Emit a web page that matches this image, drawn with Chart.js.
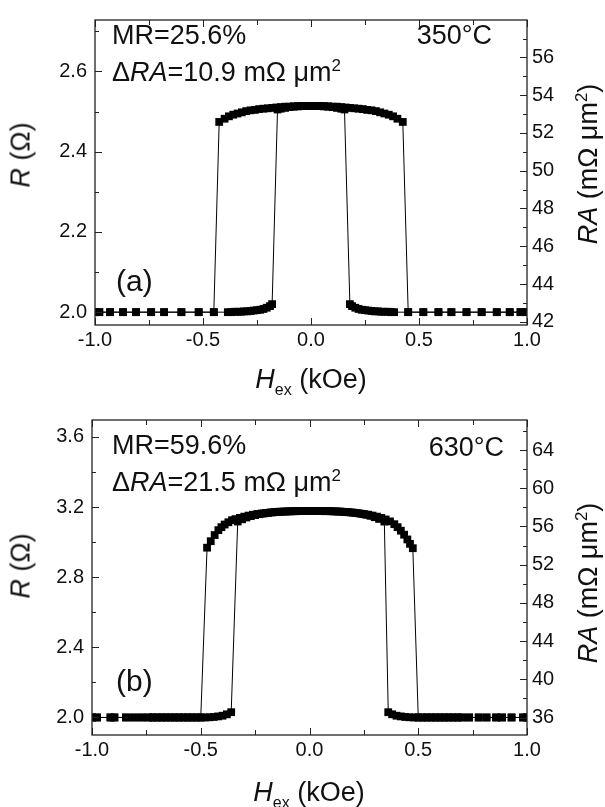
<!DOCTYPE html>
<html>
<head>
<meta charset="utf-8">
<script src="https://cdn.jsdelivr.net/npm/chart.js@4.4.1/dist/chart.umd.min.js"></script>
<style>
  body { margin: 0; background: #fff; }
  #wrap { position: relative; width: 605px; height: 807px; overflow: hidden; font-family: "Liberation Sans", Arial, sans-serif; color: #111; }
  canvas { position: absolute; left: 0; }
  #chartA { top: 0; }
  #chartB { top: 400px; }
  .txt { position: absolute; font-size: 27px; line-height: 27px; white-space: nowrap; }
  .lab { font-size: 30px; line-height: 30px; }
  .rot { transform: translate(-50%, -50%) rotate(-90deg); }
  .hor { transform: translate(-50%, -50%); }
  sup { font-size: 17px; vertical-align: 10px; line-height: 0; }
  sub { font-size: 16px; vertical-align: -7px; line-height: 0; }
</style>
</head>
<body>
<div id="wrap">
  <canvas id="chartA" width="605" height="400"></canvas>
  <canvas id="chartB" width="605" height="407"></canvas>

  <div class="txt" style="left:112px; top:22px;">MR=25.6%</div>
  <div class="txt" style="left:112px; top:59px;">&Delta;<i>RA</i>=10.9 m&Omega; &mu;m<sup>2</sup></div>
  <div class="txt" style="right:113px; top:22px;">350°C</div>
  <div class="txt lab" style="left:116px; top:266px;">(a)</div>
  <div class="txt rot" style="left:21px; top:155px;"><i>R</i> (&Omega;)</div>
  <div class="txt rot" style="left:588px; top:164px;"><i>RA</i> (m&Omega; &mu;m<sup>2</sup>)</div>
  <div class="txt hor" style="left:311px; top:379px;"><i>H</i><sub>ex</sub> (kOe)</div>

  <div class="txt" style="left:112px; top:432px;">MR=59.6%</div>
  <div class="txt" style="left:112px; top:469px;">&Delta;<i>RA</i>=21.5 m&Omega; &mu;m<sup>2</sup></div>
  <div class="txt" style="right:101px; top:434px;">630°C</div>
  <div class="txt lab" style="left:116px; top:666px;">(b)</div>
  <div class="txt rot" style="left:21px; top:566px;"><i>R</i> (&Omega;)</div>
  <div class="txt rot" style="left:588px; top:583px;"><i>RA</i> (m&Omega; &mu;m<sup>2</sup>)</div>
  <div class="txt hor" style="left:309px; top:792px;"><i>H</i><sub>ex</sub> (kOe)</div>
</div>

<script>
// ticks
const fieldTicks = [-1.0, -0.5, 0.0, 0.5, 1.0];
const fieldMinor = [-0.75, -0.25, 0.25, 0.75];
const rTicksA = [2.0, 2.2, 2.4, 2.6];
const rMinorA = [2.1, 2.3, 2.5, 2.7];
const raTicksA = [42, 44, 46, 48, 50, 52, 54, 56];
const raMinorA = [43, 45, 47, 49, 51, 53, 55, 57];
const rTicksB = [2.0, 2.4, 2.8, 3.2, 3.6];
const rMinorB = [2.2, 2.6, 3.0, 3.4];
const raTicksB = [36, 40, 44, 48, 52, 56, 60, 64];
const raMinorB = [38, 42, 46, 50, 54, 58, 62, 66];

// (a) 350°C : sweep -1 -> +1
const fieldUpA = [-1.00, -0.98, -0.93, -0.87, -0.81, -0.74, -0.68, -0.60, -0.52, -0.45,
  -0.385, -0.37, -0.355, -0.34, -0.325, -0.31, -0.295, -0.28, -0.265, -0.25, -0.235, -0.22, -0.205, -0.19, -0.18,
  -0.155, -0.14, -0.12, -0.10, -0.08, -0.06, -0.04, -0.02, 0.00, 0.02, 0.04, 0.06, 0.08, 0.10, 0.12, 0.14,
  0.16, 0.18, 0.20, 0.22, 0.24, 0.26, 0.28, 0.30, 0.32, 0.34, 0.36, 0.38, 0.40, 0.425,
  0.45, 0.52, 0.59, 0.65, 0.72, 0.79, 0.86, 0.92, 0.97, 1.00];
const resUpA = [2.000, 2.000, 2.000, 2.000, 2.000, 2.000, 2.000, 2.000, 2.000, 2.000,
  2.000, 2.000, 2.001, 2.001, 2.001, 2.002, 2.002, 2.003, 2.004, 2.005, 2.006, 2.008, 2.011, 2.015, 2.020,
  2.505, 2.507, 2.509, 2.511, 2.512, 2.513, 2.514, 2.514, 2.514, 2.514, 2.514, 2.513, 2.513, 2.512, 2.512, 2.511,
  2.510, 2.509, 2.508, 2.507, 2.506, 2.504, 2.503, 2.501, 2.498, 2.495, 2.492, 2.488, 2.482, 2.474,
  2.000, 2.000, 2.000, 2.000, 2.000, 2.000, 2.000, 2.000, 2.000, 2.000];

// (a) 350°C : sweep +1 -> -1
const fieldDownA = [1.00, 0.97, 0.92, 0.86, 0.79, 0.72, 0.65, 0.59, 0.52, 0.45,
  0.385, 0.37, 0.355, 0.34, 0.325, 0.31, 0.295, 0.28, 0.265, 0.25, 0.235, 0.22, 0.205, 0.19, 0.18,
  0.155, 0.14, 0.12, 0.10, 0.08, 0.06, 0.04, 0.02, 0.00, -0.02, -0.04, -0.06, -0.08, -0.10, -0.12, -0.14,
  -0.16, -0.18, -0.20, -0.22, -0.24, -0.26, -0.28, -0.30, -0.32, -0.34, -0.36, -0.38, -0.40, -0.425,
  -0.45, -0.52, -0.60, -0.68, -0.74, -0.81, -0.87, -0.93, -0.98, -1.00];
const resDownA = [2.000, 2.000, 2.000, 2.000, 2.000, 2.000, 2.000, 2.000, 2.000, 2.000,
  2.000, 2.000, 2.001, 2.001, 2.001, 2.002, 2.002, 2.003, 2.004, 2.005, 2.006, 2.008, 2.011, 2.015, 2.020,
  2.505, 2.507, 2.509, 2.511, 2.512, 2.513, 2.514, 2.514, 2.514, 2.514, 2.514, 2.513, 2.513, 2.512, 2.512, 2.511,
  2.510, 2.509, 2.508, 2.507, 2.506, 2.504, 2.503, 2.501, 2.498, 2.495, 2.492, 2.488, 2.482, 2.474,
  2.000, 2.000, 2.000, 2.000, 2.000, 2.000, 2.000, 2.000, 2.000, 2.000];

// (b) 630°C : sweep -1 -> +1
const fieldUpB = [-1.00, -0.977, -0.915, -0.897, -0.844, -0.808, -0.773,
  -0.74, -0.72, -0.70, -0.68, -0.66, -0.64, -0.62, -0.60, -0.58, -0.56, -0.54, -0.52, -0.50,
  -0.48, -0.46, -0.44, -0.42, -0.40, -0.38, -0.36,
  -0.33, -0.31, -0.29, -0.27, -0.25, -0.23, -0.21, -0.19, -0.17, -0.15, -0.13, -0.11, -0.09, -0.07, -0.05, -0.03, -0.01,
  0.01, 0.03, 0.05, 0.07, 0.09, 0.11, 0.13, 0.15, 0.17, 0.19, 0.21, 0.23, 0.25, 0.27, 0.29, 0.31, 0.33,
  0.35, 0.37, 0.39, 0.405, 0.42, 0.435, 0.45, 0.462, 0.475,
  0.50, 0.52, 0.54, 0.56, 0.58, 0.60, 0.62, 0.64, 0.66, 0.68, 0.70,
  0.734, 0.778, 0.814, 0.858, 0.885, 0.929, 0.982, 1.00];
const resUpB = [2.000, 2.000, 2.000, 2.000, 2.000, 2.000, 2.000,
  2.000, 2.000, 2.000, 2.000, 2.000, 2.000, 2.000, 2.000, 2.000, 2.000, 2.000, 2.000, 2.000,
  2.000, 2.001, 2.003, 2.006, 2.010, 2.018, 2.030,
  3.117, 3.130, 3.140, 3.148, 3.154, 3.159, 3.163, 3.166, 3.169, 3.171, 3.173, 3.174, 3.175, 3.176, 3.177, 3.177, 3.177,
  3.177, 3.177, 3.177, 3.176, 3.176, 3.175, 3.174, 3.173, 3.171, 3.169, 3.166, 3.163, 3.160, 3.156, 3.151, 3.145, 3.138,
  3.129, 3.118, 3.102, 3.085, 3.065, 3.042, 3.015, 2.990, 2.965,
  2.000, 2.000, 2.000, 2.000, 2.000, 2.000, 2.000, 2.000, 2.000, 2.000, 2.000,
  2.000, 2.000, 2.000, 2.000, 2.000, 2.000, 2.000, 2.000];

// (b) 630°C : sweep +1 -> -1
const fieldDownB = [1.00, 0.982, 0.929, 0.885, 0.858, 0.814, 0.778, 0.734,
  0.70, 0.68, 0.66, 0.64, 0.62, 0.60, 0.58, 0.56, 0.54, 0.52, 0.50,
  0.48, 0.46, 0.44, 0.42, 0.40, 0.38, 0.362,
  0.344, 0.32, 0.30, 0.28, 0.26, 0.24, 0.22, 0.20, 0.18, 0.16, 0.14, 0.12, 0.10, 0.08, 0.06, 0.04, 0.02, 0.00,
  -0.02, -0.04, -0.06, -0.08, -0.10, -0.12, -0.14, -0.16, -0.18, -0.20, -0.22, -0.24, -0.26, -0.28, -0.30, -0.32,
  -0.34, -0.356, -0.373, -0.39, -0.405, -0.419, -0.436, -0.454, -0.471,
  -0.50, -0.52, -0.54, -0.56, -0.58, -0.60, -0.62, -0.64, -0.66, -0.68, -0.70, -0.72, -0.74,
  -0.773, -0.808, -0.844, -0.897, -0.915, -0.977, -1.00];
const resDownB = [2.000, 2.000, 2.000, 2.000, 2.000, 2.000, 2.000, 2.000,
  2.000, 2.000, 2.000, 2.000, 2.000, 2.000, 2.000, 2.000, 2.000, 2.000, 2.000,
  2.000, 2.001, 2.003, 2.006, 2.010, 2.018, 2.030,
  3.117, 3.132, 3.142, 3.150, 3.156, 3.161, 3.165, 3.168, 3.170, 3.172, 3.174, 3.175, 3.176, 3.177, 3.177, 3.177, 3.177, 3.177,
  3.177, 3.177, 3.176, 3.176, 3.175, 3.174, 3.173, 3.171, 3.169, 3.166, 3.163, 3.160, 3.156, 3.151, 3.145, 3.138,
  3.131, 3.125, 3.113, 3.100, 3.085, 3.068, 3.040, 3.005, 2.968,
  2.000, 2.000, 2.000, 2.000, 2.000, 2.000, 2.000, 2.000, 2.000, 2.000, 2.000, 2.000, 2.000,
  2.000, 2.000, 2.000, 2.000, 2.000, 2.000, 2.000];

Chart.defaults.font.family = '"Liberation Sans", Arial, sans-serif';
Chart.defaults.font.size = 20;
Chart.defaults.color = '#111';

function toPoints(xs, ys) {
  return xs.map((x, i) => ({ x: x, y: ys[i] }));
}

function loopDataset(xs, ys) {
  return {
    data: toPoints(xs, ys),
    showLine: true,
    borderColor: '#000',
    borderWidth: 1,
    pointStyle: 'rect',
    pointRadius: 5.5,
    pointBorderWidth: 0,
    pointBackgroundColor: '#000',
    clip: 0
  };
}

// frame and inward ticks on all four sides
const framePlugin = {
  id: 'frame',
  afterDatasetsDraw(chart, args, opts) {
    const ctx = chart.ctx;
    const a = chart.chartArea;
    const xs = chart.scales.x, yl = chart.scales.y, yr = chart.scales.y1;
    ctx.save();
    ctx.strokeStyle = '#222';
    ctx.lineWidth = 1.3;
    ctx.strokeRect(a.left, a.top, a.right - a.left, a.bottom - a.top);
    ctx.lineWidth = 1;
    ctx.beginPath();
    const tickX = (vals, len) => vals.forEach(v => {
      const p = Math.round(xs.getPixelForValue(v)) + 0.5;
      ctx.moveTo(p, a.bottom); ctx.lineTo(p, a.bottom - len);
      ctx.moveTo(p, a.top); ctx.lineTo(p, a.top + len);
    });
    const tickL = (vals, len) => vals.forEach(v => {
      const p = Math.round(yl.getPixelForValue(v)) + 0.5;
      if (p < a.top || p > a.bottom) return;
      ctx.moveTo(a.left, p); ctx.lineTo(a.left + len, p);
    });
    const tickR = (vals, len) => vals.forEach(v => {
      const p = Math.round(yr.getPixelForValue(v)) + 0.5;
      if (p < a.top || p > a.bottom) return;
      ctx.moveTo(a.right, p); ctx.lineTo(a.right - len, p);
    });
    tickX(fieldTicks, 7); tickX(fieldMinor, 5);
    tickL(opts.rMajor, 7); tickL(opts.rMinor, 4);
    tickR(opts.raMajor, 7); tickR(opts.raMinor, 4);
    ctx.stroke();
    ctx.restore();
  }
};

function makePanel(id, up, down, box, rRange, raRange, rMajor, rMinor, raMajor, raMinor) {
  const ctx = document.getElementById(id).getContext('2d');
  return new Chart(ctx, {
    type: 'scatter',
    data: { datasets: [loopDataset(up[0], up[1]), loopDataset(down[0], down[1])] },
    options: {
      responsive: false,
      animation: false,
      devicePixelRatio: 1,
      layout: { padding: { top: box.top, left: 0, right: 0, bottom: 0 } },
      plugins: {
        legend: { display: false },
        tooltip: { enabled: false },
        frame: { rMajor: rMajor, rMinor: rMinor, raMajor: raMajor, raMinor: raMinor }
      },
      scales: {
        x: {
          type: 'linear', min: -1, max: 1,
          afterBuildTicks: s => { s.ticks = fieldTicks.map(v => ({ value: v })); },
          afterFit: s => { s.height = box.xh; },
          ticks: { callback: v => v.toFixed(1), padding: 3, maxRotation: 0 },
          grid: { display: false, drawTicks: false },
          border: { display: false }
        },
        y: {
          type: 'linear', position: 'left', min: rRange[0], max: rRange[1],
          afterBuildTicks: s => { s.ticks = rMajor.map(v => ({ value: v })); },
          afterFit: s => { s.width = box.left; },
          ticks: { callback: v => v.toFixed(1), padding: 8 },
          grid: { display: false, drawTicks: false },
          border: { display: false }
        },
        y1: {
          type: 'linear', position: 'right', min: raRange[0], max: raRange[1],
          afterBuildTicks: s => { s.ticks = raMajor.map(v => ({ value: v })); },
          afterFit: s => { s.width = box.right; },
          ticks: { callback: v => String(v), padding: 5 },
          grid: { display: false, drawTicks: false },
          border: { display: false }
        }
      }
    },
    plugins: [framePlugin]
  });
}

makePanel('chartA', [fieldUpA, resUpA], [fieldDownA, resDownA],
  { top: 4, xh: 75, left: 95, right: 78 }, [1.968, 2.728], [41.83, 57.98],
  rTicksA, rMinorA, raTicksA, raMinorA);

makePanel('chartB', [fieldUpB, resUpB], [fieldDownB, resDownB],
  { top: 11, xh: 72, left: 92, right: 78 }, [1.90, 3.696], [34.17, 67.14],
  rTicksB, rMinorB, raTicksB, raMinorB);
</script>
</body>
</html>
